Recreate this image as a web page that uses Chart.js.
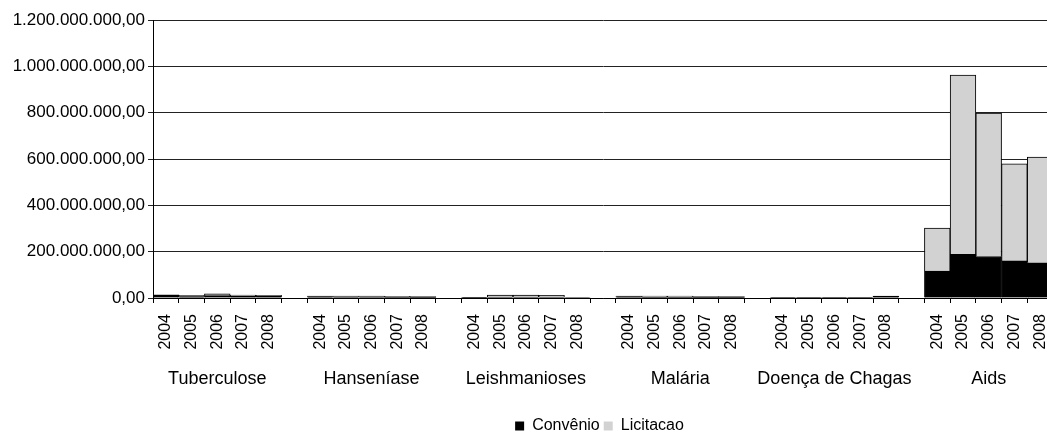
<!DOCTYPE html>
<html>
<head>
<meta charset="utf-8">
<script src="https://cdn.jsdelivr.net/npm/chart.js@4"></script>
<style>
  body { margin: 0; overflow: hidden; background: #fff; }
  #wrap { width: 1060px; height: 444px; }
</style>
</head>
<body>
<div id="wrap"><canvas id="chart" width="1060" height="444"></canvas></div>
<script>
// -----------------------------
// Data (values in millions of R$)
// -----------------------------
const groups = ["Tuberculose", "Hanseníase", "Leishmanioses", "Malária", "Doença de Chagas", "Aids"];
const years = ["2004", "2005", "2006", "2007", "2008"];

const convenio = [
  12, 6, 10, 8, 7,
  6, 5, 5, 4, 3,
  1, 4, 4, 4, 2,
  6, 4, 4, 3, 3,
  0.5, 0.5, 0.5, 0.5, 8,
  116, 188, 179, 160, 152
];
const licitacao = [
  2, 6, 8, 5, 5,
  2, 3, 3, 3, 3,
  1, 9, 9, 8, 1,
  2, 4, 4, 3, 3,
  0, 0, 0, 0, 0,
  186, 774, 619, 419, 456
];
const yTicks = [0, 200, 400, 600, 800, 1000, 1200];

const MILLION = 1000000;
const FONT = "'Liberation Sans', Arial, sans-serif";

// -----------------------------
// Build labels with an empty slot between groups
// -----------------------------
const labels = [];
const convData = [];
const licData = [];
groups.forEach((g, gi) => {
  if (gi > 0) {
    labels.push("");
    convData.push(null);
    licData.push(null);
  }
  years.forEach((y, yi) => {
    labels.push(y);
    convData.push(convenio[gi * 5 + yi] * MILLION);
    licData.push(licitacao[gi * 5 + yi] * MILLION);
  });
});

function formatBR(v) {
  const parts = Math.round(v).toString().replace(/\B(?=(\d{3})+(?!\d))/g, ".");
  return parts + ",00";
}

// Group names under the years
const groupLabels = {
  id: "groupLabels",
  afterLayout(chart) {
    // legend sits a bit right of the canvas centre in the original
    if (chart.legend) {
      chart.legend.left += 73;
      chart.legend.right += 73;
    }
  },
  afterDraw(chart) {
    const x = chart.scales.x;
    const ctx = chart.ctx;
    ctx.save();
    ctx.font = "18px " + FONT;
    ctx.fillStyle = "#000";
    ctx.textAlign = "center";
    ctx.textBaseline = "middle";
    groups.forEach((g, gi) => {
      const first = gi * 6;
      const last = first + 4;
      const cx = (x.getPixelForValue(first) + x.getPixelForValue(last)) / 2;
      ctx.fillText(g, cx, 379);
    });
    ctx.restore();
  }
};

new Chart(document.getElementById("chart"), {
  type: "bar",
  data: {
    labels: labels,
    datasets: [
      {
        label: "Convênio",
        data: convData,
        backgroundColor: "#000000",
        borderColor: "#000000",
        borderWidth: 1,
        categoryPercentage: 1,
        barPercentage: 1
      },
      {
        label: "Licitacao",
        data: licData,
        backgroundColor: "#d2d2d2",
        borderColor: "#000000",
        borderWidth: 1,
        categoryPercentage: 1,
        barPercentage: 1
      }
    ]
  },
  options: {
    responsive: false,
    animation: false,
    layout: { padding: { left: 0, top: 20, right: 7, bottom: 0 } },
    plugins: {
      tooltip: { enabled: false },
      legend: {
        position: "bottom",
        labels: {
          font: { family: FONT, size: 16 },
          color: "#000",
          boxWidth: 9,
          boxHeight: 9,
          padding: 4,
          generateLabels(chart) {
            return chart.data.datasets.map((ds, i) => ({
              text: ds.label,
              fillStyle: ds.backgroundColor,
              strokeStyle: ds.backgroundColor,
              lineWidth: 0,
              datasetIndex: i
            }));
          }
        }
      }
    },
    scales: {
      x: {
        stacked: true,
        afterFit(scale) {
          scale.height = 116;
          scale.paddingLeft = 0;
          scale.paddingRight = 0;
        },
        grid: {
          offset: true,
          drawOnChartArea: false,
          drawTicks: true,
          tickLength: 5,
          color: "#000"
        },
        border: { color: "#000", width: 1 },
        ticks: {
          autoSkip: false,
          maxRotation: 90,
          minRotation: 90,
          padding: 11,
          color: "#000",
          font: { family: FONT, size: 16 }
        }
      },
      y: {
        stacked: true,
        min: 0,
        max: 1200 * MILLION,
        afterFit(scale) { scale.width = 153; },
        afterBuildTicks(scale) {
          scale.ticks = yTicks.map(v => ({ value: v * MILLION }));
        },
        grid: {
          color: "#222",
          tickLength: 5,
          drawTicks: true
        },
        border: { color: "#000", width: 1 },
        ticks: {
          padding: 3,
          color: "#000",
          font: { family: FONT, size: 17 },
          callback: v => formatBR(v)
        }
      }
    }
  },
  plugins: [groupLabels]
});
</script>
</body>
</html>
